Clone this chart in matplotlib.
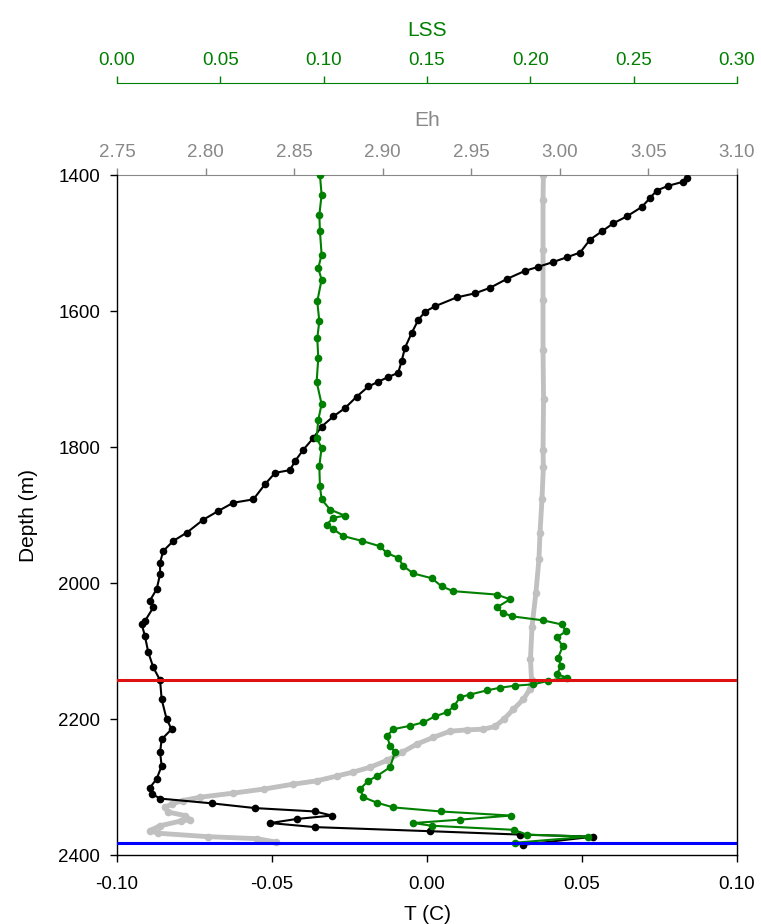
import matplotlib
matplotlib.use('Agg')
import matplotlib.pyplot as plt
from matplotlib.ticker import FormatStrFormatter

plt.rcParams['font.family'] = ['Liberation Sans', 'DejaVu Sans']

# Temperatura (T, en C) frente a profundidad (m)
depth_t = [1404, 1410, 1416, 1423, 1434, 1447, 1461, 1471, 1483, 1495,
           1514, 1521, 1528, 1535, 1541, 1553, 1566, 1574, 1580, 1593,
           1601, 1613, 1632, 1654, 1674, 1691, 1697, 1704, 1711, 1726,
           1743, 1755, 1770, 1787, 1804, 1821, 1834, 1838, 1855, 1877,
           1882, 1894, 1907, 1926, 1938, 1953, 1970, 1987, 2009, 2026,
           2036, 2056, 2061, 2078, 2102, 2124, 2143, 2171, 2200, 2215,
           2230, 2249, 2269, 2288, 2301, 2310, 2317, 2324, 2331, 2336,
           2342, 2347, 2353, 2359, 2365, 2370, 2373, 2385]
temp = [0.0840, 0.0826, 0.0777, 0.0741, 0.0719, 0.0693, 0.0644, 0.0601, 0.0564, 0.0526,
        0.0494, 0.0451, 0.0407, 0.0359, 0.0316, 0.0257, 0.0203, 0.0155, 0.0096, 0.0026,
        -0.0006, -0.0028, -0.0049, -0.0071, -0.0082, -0.0093, -0.0125, -0.0157, -0.0189, -0.0227,
        -0.0265, -0.0302, -0.0340, -0.0367, -0.0399, -0.0426, -0.0442, -0.0490, -0.0523, -0.0560,
        -0.0625, -0.0673, -0.0722, -0.0775, -0.0818, -0.0851, -0.0861, -0.0861, -0.0872, -0.0894,
        -0.0883, -0.0910, -0.0920, -0.0910, -0.0899, -0.0883, -0.0861, -0.0856, -0.0840, -0.0824,
        -0.0856, -0.0861, -0.0856, -0.0872, -0.0894, -0.0888, -0.0861, -0.0695, -0.0555, -0.0361,
        -0.0307, -0.0420, -0.0506, -0.0361, 0.0010, 0.0300, 0.0536, 0.0311]

# Eh frente a profundidad
depth_eh = [1400, 1437, 1510, 1584, 1657, 1730, 1804, 1829, 1877, 1926,
            1965, 2014, 2064, 2112, 2142, 2156, 2171, 2186, 2200, 2211,
            2215, 2216, 2218, 2227, 2237, 2249, 2261, 2271, 2278, 2284,
            2291, 2296, 2303, 2309, 2315, 2320, 2325, 2330, 2337, 2342,
            2348, 2350, 2357, 2364, 2368, 2373, 2376, 2381]
eh = [2.9907, 2.9905, 2.9905, 2.9905, 2.9905, 2.9908, 2.9905, 2.9907, 2.9899, 2.9888,
      2.9882, 2.9865, 2.9843, 2.9834, 2.9840, 2.9832, 2.9794, 2.9737, 2.9685, 2.9634,
      2.9568, 2.9474, 2.9380, 2.9286, 2.9192, 2.9109, 2.9023, 2.8928, 2.8834, 2.8740,
      2.8627, 2.8491, 2.8330, 2.8157, 2.7969, 2.7870, 2.7809, 2.7771, 2.7790, 2.7884,
      2.7912, 2.7861, 2.7743, 2.7686, 2.7733, 2.8011, 2.8289, 2.8398]

# LSS frente a profundidad
depth_lss = [1400, 1429, 1459, 1483, 1517, 1537, 1554, 1586, 1615, 1640,
             1669, 1704, 1737, 1760, 1787, 1801, 1828, 1858, 1877, 1892,
             1901, 1904, 1914, 1921, 1931, 1938, 1946, 1956, 1963, 1975,
             1986, 1993, 2005, 2012, 2017, 2024, 2036, 2044, 2049, 2055,
             2061, 2071, 2080, 2093, 2110, 2122, 2134, 2139, 2144, 2149,
             2151, 2154, 2158, 2164, 2168, 2181, 2190, 2196, 2205, 2210,
             2215, 2225, 2239, 2249, 2271, 2284, 2291, 2303, 2315, 2323,
             2330, 2336, 2342, 2348, 2353, 2357, 2363, 2370, 2373, 2382]
lss = [0.0982, 0.0990, 0.0979, 0.0982, 0.0990, 0.0974, 0.0990, 0.0969, 0.0979, 0.0969,
       0.0974, 0.0966, 0.0990, 0.0974, 0.0966, 0.0990, 0.0979, 0.0982, 0.0990, 0.1031,
       0.1103, 0.1047, 0.1015, 0.1047, 0.1095, 0.1184, 0.1273, 0.1305, 0.1361, 0.1385,
       0.1434, 0.1523, 0.1571, 0.1627, 0.1837, 0.1902, 0.1837, 0.1869, 0.1911, 0.2063,
       0.2152, 0.2173, 0.2128, 0.2157, 0.2134, 0.2148, 0.2129, 0.2176, 0.2085, 0.2014,
       0.1926, 0.1853, 0.1789, 0.1708, 0.1660, 0.1631, 0.1597, 0.1539, 0.1482, 0.1418,
       0.1337, 0.1306, 0.1321, 0.1345, 0.1321, 0.1257, 0.1216, 0.1176, 0.1192, 0.1257,
       0.1337, 0.1568, 0.1906, 0.1660, 0.1434, 0.1523, 0.1921, 0.1982, 0.2279, 0.1926]

# Lineas horizontales de referencia
red_depth = 2143
blue_depth = 2382

t_ticks = [-0.10, -0.05, 0.0, 0.05, 0.10]
eh_ticks = [2.75, 2.80, 2.85, 2.90, 2.95, 3.00, 3.05, 3.10]
lss_ticks = [0.0, 0.05, 0.10, 0.15, 0.20, 0.25, 0.30]
depth_ticks = [1400, 1600, 1800, 2000, 2200, 2400]

GREEN = '#008000'
GRAY_PTS = '#c0c0c0'
GRAY_TXT = '#888888'

fig = plt.figure(figsize=(7.61, 9.24), dpi=100)
ax = fig.add_axes([117 / 761, 1 - 855 / 924, 620 / 761, 680 / 924])
ax_eh = ax.twiny()
ax_lss = ax.twiny()

# orden de dibujo: Eh abajo, T en medio, LSS arriba
ax_eh.set_zorder(1)
ax.set_zorder(2)
ax_lss.set_zorder(3)
for a in (ax, ax_eh, ax_lss):
    a.patch.set_visible(False)

ax_eh.plot(eh, depth_eh, '-o', color=GRAY_PTS, lw=3.5, ms=5.5, mew=0)
ax.plot(temp, depth_t, '-o', color='black', lw=1.5, ms=5.5, mew=0)
ax_lss.plot(lss, depth_lss, '-o', color=GREEN, lw=1.5, ms=5.5, mew=0)
ax_lss.axhline(red_depth, color='#dd1111', lw=2.2)
ax_lss.axhline(blue_depth, color='#0000ff', lw=2.2)

ax.set_ylim(2400, 1400)
ax.set_xlim(-0.10, 0.10)
ax_eh.set_xlim(2.75, 3.10)
ax_lss.set_xlim(0.0, 0.30)

# Eje principal (T y profundidad)
ax.set_xticks(t_ticks)
ax.set_yticks(depth_ticks)
ax.xaxis.set_major_formatter(FormatStrFormatter('%.2f'))
ax.tick_params(direction='out', length=5, width=1, labelsize=13.5, pad=7)
ax.tick_params(axis='x', pad=10)
ax.spines['top'].set_visible(False)
for s in ('left', 'bottom', 'right'):
    ax.spines[s].set_linewidth(1)
ax.set_xlabel('T (C)', fontsize=15, labelpad=9)
ax.set_ylabel('Depth (m)', fontsize=15, labelpad=15)

# Eje Eh (arriba, gris)
ax_eh.set_xticks(eh_ticks)
ax_eh.xaxis.set_major_formatter(FormatStrFormatter('%.2f'))
for s in ('left', 'bottom', 'right'):
    ax_eh.spines[s].set_visible(False)
ax_eh.spines['top'].set_color(GRAY_TXT)
ax_eh.tick_params(axis='x', direction='out', length=5, width=1, labelsize=13.5, pad=5,
                  color=GRAY_TXT, labelcolor=GRAY_TXT)
ax_eh.set_xlabel('Eh', fontsize=15, color=GRAY_TXT, labelpad=13)

# Eje LSS (arriba, verde, desplazado)
ax_lss.set_xticks(lss_ticks)
ax_lss.xaxis.set_major_formatter(FormatStrFormatter('%.2f'))
for s in ('left', 'bottom', 'right'):
    ax_lss.spines[s].set_visible(False)
ax_lss.spines['top'].set_position(('outward', 66))
ax_lss.spines['top'].set_color(GREEN)
ax_lss.tick_params(axis='x', direction='out', length=5, width=1, labelsize=13.5, pad=5,
                   color=GREEN, labelcolor=GREEN)
ax_lss.set_xlabel('LSS', fontsize=15, color=GREEN, labelpad=12)

fig.savefig('out.png', dpi=100)
